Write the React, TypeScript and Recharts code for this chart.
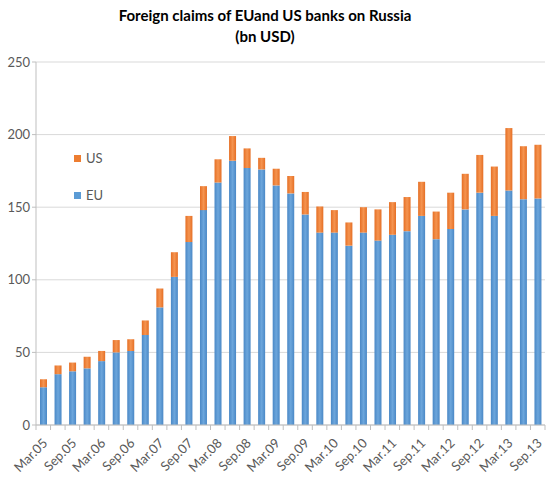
import React from 'react';
import { BarChart, Bar, XAxis, YAxis, CartesianGrid } from 'recharts';

const quarters = [
  'Mar.05', 'Jun.05', 'Sep.05', 'Dec.05',
  'Mar.06', 'Jun.06', 'Sep.06', 'Dec.06',
  'Mar.07', 'Jun.07', 'Sep.07', 'Dec.07',
  'Mar.08', 'Jun.08', 'Sep.08', 'Dec.08',
  'Mar.09', 'Jun.09', 'Sep.09', 'Dec.09',
  'Mar.10', 'Jun.10', 'Sep.10', 'Dec.10',
  'Mar.11', 'Jun.11', 'Sep.11', 'Dec.11',
  'Mar.12', 'Jun.12', 'Sep.12', 'Dec.12',
  'Mar.13', 'Jun.13', 'Sep.13',
];

const euClaims = [
  26, 35, 37, 39, 44, 50, 51, 62, 81, 102, 126, 148, 167, 182, 177, 176, 165, 159.5,
  145, 132.5, 132.5, 123.5, 132.5, 127, 131, 133.5, 144, 128, 135, 148.5, 160, 144,
  161.5, 155.5, 156,
];

const usClaims = [
  5.5, 6, 6, 8, 7, 8.5, 8, 10, 13, 17, 18, 16.5, 16, 17, 13.5, 8, 11.5, 12,
  15.5, 18, 15.5, 16, 17.5, 21.5, 22.5, 23.5, 23.5, 19, 25, 24.5, 26, 34,
  43, 36.5, 37,
];

const yTicks = [0, 50, 100, 150, 200, 250];

const data = quarters.map((q, i) => ({ quarter: q, EU: euClaims[i], US: usClaims[i] }));

const FONT = 'Lato, "Open Sans", sans-serif';
const TEXT = '#595959';
const AXIS = '#bfbfbf';

// tick marks sit between categories, labels every second quarter
const QuarterTick = (props: any) => {
  const { x, y, payload, index } = props;
  const half = payload.offset || 0;
  const isLast = index === quarters.length - 1;
  const lx = x + 5;
  const ly = y + 19;
  return (
    <g>
      <line x1={x - half} y1={y} x2={x - half} y2={y + 5} stroke={AXIS} />
      {isLast && <line x1={x + half} y1={y} x2={x + half} y2={y + 5} stroke={AXIS} />}
      {index % 2 === 0 && (
        <text
          x={lx}
          y={ly}
          transform={`rotate(-45, ${lx}, ${ly})`}
          textAnchor="end"
          fill={TEXT}
          fontSize={13}
          fontFamily={FONT}
        >
          {payload.value}
        </text>
      )}
    </g>
  );
};

const legendItems = [
  { name: 'US', color: '#ED7D31' },
  { name: 'EU', color: '#5B9BD5' },
];

export default function App() {
  return (
    <div style={{ position: 'absolute', left: 0, top: 0, width: 550, height: 488, background: '#fff' }}>
      <div
        style={{
          position: 'absolute',
          left: 0,
          top: 5,
          width: 530,
          textAlign: 'center',
          fontFamily: FONT,
          fontWeight: 700,
          fontSize: 15,
          lineHeight: '21px',
          color: '#000',
        }}
      >
        Foreign claims of EUand US banks on Russia
        <br />
        (bn USD)
      </div>
      <div
        style={{
          position: 'absolute',
          left: 74,
          top: 149,
          fontFamily: FONT,
          fontSize: 13,
          color: TEXT,
          zIndex: 2,
        }}
      >
        {legendItems.map((it) => (
          <div key={it.name} style={{ display: 'flex', alignItems: 'center', height: 18, marginBottom: 19 }}>
            <span style={{ width: 7, height: 7, background: it.color, display: 'inline-block', marginRight: 5 }} />
            {it.name}
          </div>
        ))}
      </div>
      <BarChart
        width={550}
        height={488}
        data={data}
        margin={{ top: 62, right: 5, bottom: 0, left: 0 }}
        barSize={7}
      >
        <defs>
          <linearGradient id="euFill" x1="0" y1="0" x2="1" y2="0">
            <stop offset="0%" stopColor="#4A88C6" />
            <stop offset="50%" stopColor="#6CA6DC" />
            <stop offset="100%" stopColor="#4A88C6" />
          </linearGradient>
          <linearGradient id="usFill" x1="0" y1="0" x2="1" y2="0">
            <stop offset="0%" stopColor="#E56F25" />
            <stop offset="50%" stopColor="#F59450" />
            <stop offset="100%" stopColor="#E56F25" />
          </linearGradient>
        </defs>
        <CartesianGrid vertical={false} stroke="#d9d9d9" />
        <XAxis
          dataKey="quarter"
          interval={0}
          height={63}
          tickSize={0}
          tickMargin={0}
          tickLine={false}
          stroke={AXIS}
          tick={<QuarterTick />}
        />
        <YAxis
          domain={[0, 250]}
          ticks={yTicks}
          width={36}
          stroke={AXIS}
          tickSize={4}
          tick={{ fill: TEXT, fontSize: 13, fontFamily: FONT }}
        />
        <Bar dataKey="EU" stackId="a" fill="url(#euFill)" isAnimationActive={false} />
        <Bar dataKey="US" stackId="a" fill="url(#usFill)" isAnimationActive={false} />
      </BarChart>
    </div>
  );
}
